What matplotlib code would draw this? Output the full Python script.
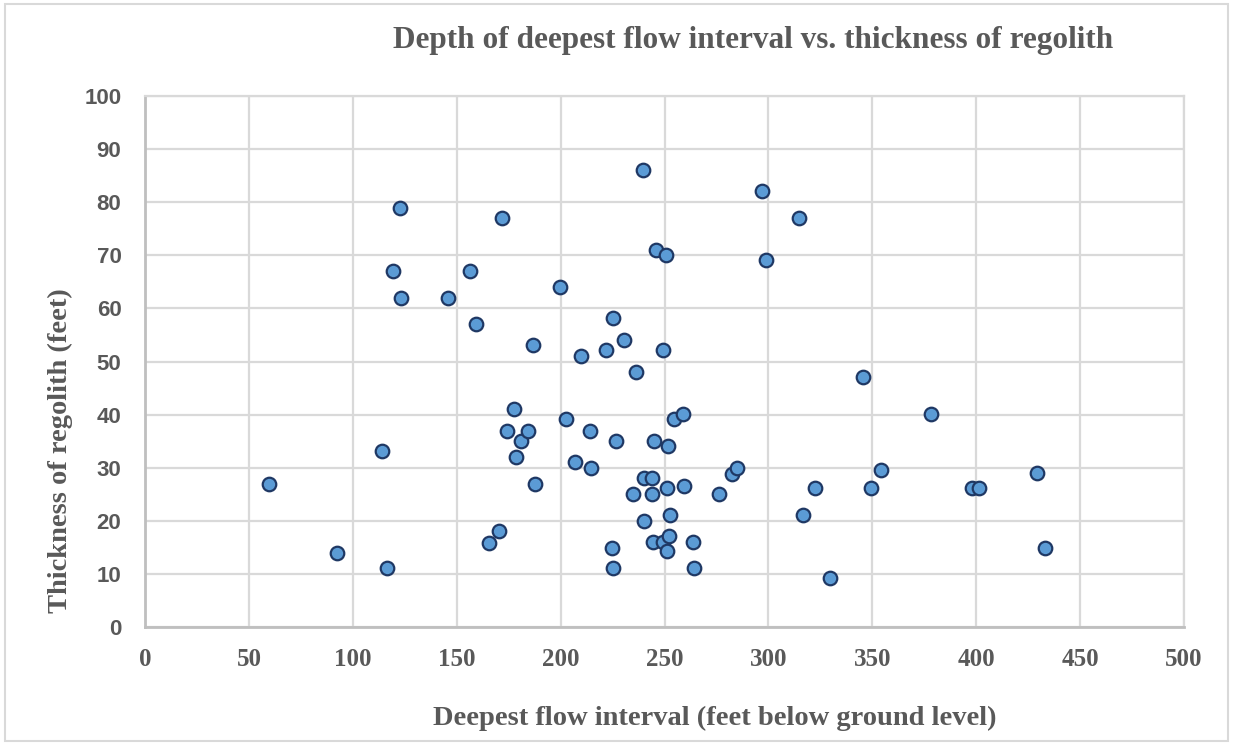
import matplotlib.pyplot as plt
from matplotlib.patches import Rectangle

# deepest flow interval (feet below ground level)
flow_depth = [59.8, 92.4, 113.9, 116.3, 119.5, 122.6, 123.2, 146.0, 156.2, 159.5,
              165.7, 170.5, 171.8, 174.2, 177.4, 178.5, 181.0, 184.2, 186.6, 187.7,
              199.6, 202.6, 206.8, 209.8, 214.2, 214.6, 221.7, 224.7, 225.4, 225.4,
              226.7, 230.4, 234.7, 236.4, 239.5, 240.0, 240.1, 244.0, 244.0, 244.6,
              244.9, 245.8, 249.1, 249.3, 250.6, 251.2, 251.2, 251.5, 252.5, 252.0,
              254.7, 258.7, 259.2, 263.6, 264.0, 276.4, 282.6, 284.7, 296.9, 298.7,
              314.7, 316.7, 322.6, 329.5, 345.7, 349.2, 354.3, 378.2, 398.0, 401.2,
              429.3, 433.1]
# thickness of regolith (feet)
regolith = [27.0, 14.0, 33.1, 11.1, 67.1, 79.0, 62.0, 62.0, 67.1, 57.0,
            15.9, 18.1, 77.1, 36.9, 41.0, 32.1, 35.0, 36.9, 53.1, 27.0,
            64.0, 39.1, 31.1, 51.0, 36.9, 29.9, 52.2, 14.9, 58.2, 11.1,
            35.0, 54.1, 25.1, 48.0, 86.0, 28.0, 20.0, 28.0, 25.1, 16.0,
            35.0, 71.0, 16.0, 52.2, 70.1, 26.1, 14.4, 34.0, 21.0, 17.2,
            39.1, 40.1, 26.6, 16.0, 11.1, 25.1, 28.9, 29.9, 82.1, 69.1,
            77.1, 21.0, 26.1, 9.2, 47.1, 26.1, 29.5, 40.1, 26.1, 26.1,
            29.0, 14.9]

x_ticks = list(range(0, 501, 50))
y_ticks = list(range(0, 101, 10))

grey_text = '#595959'
grid_col = '#D9D9D9'

fig = plt.figure(figsize=(12.33, 7.45), dpi=100)
ax = fig.add_axes([0.1176, 0.1584, 0.8427, 0.7127])

ax.scatter(flow_depth, regolith, s=95, color='#5B9BD5', edgecolors='#1F3864',
           linewidths=1.6, zorder=3)

ax.set_xlim(0, 500)
ax.set_ylim(0, 100)
ax.set_xticks(x_ticks)
ax.set_yticks(y_ticks)
ax.grid(True, color=grid_col, linewidth=1.6)
ax.set_axisbelow(True)
ax.tick_params(length=0)
ax.tick_params(axis='y', pad=17)
ax.tick_params(axis='x', pad=15)

for lab in ax.get_yticklabels():
    lab.set_fontfamily('Liberation Sans')
    lab.set_fontweight('bold')
    lab.set_fontsize(16)
    lab.set_color(grey_text)
for lab in ax.get_xticklabels():
    lab.set_fontfamily('Liberation Serif')
    lab.set_fontweight('bold')
    lab.set_fontsize(18)
    lab.set_color(grey_text)

for side in ['top', 'right']:
    ax.spines[side].set_color(grid_col)
    ax.spines[side].set_linewidth(1.6)
for side in ['left', 'bottom']:
    ax.spines[side].set_color('#BFBFBF')
    ax.spines[side].set_linewidth(2)

fig.text(0.611, 0.946, 'Depth of deepest flow interval vs. thickness of regolith',
         ha='center', va='center', fontsize=22.5, fontweight='bold',
         family='Liberation Serif', color=grey_text)
fig.text(0.58, 0.036, 'Deepest flow interval (feet below ground level)',
         ha='center', va='center', fontsize=20.5, fontweight='bold',
         family='Liberation Serif', color=grey_text)
fig.text(0.049, 0.395, 'Thickness of regolith (feet)', rotation=90,
         ha='center', va='center', fontsize=20.5, fontweight='bold',
         family='Liberation Serif', color=grey_text)

# chart border
fig.patches.append(Rectangle((0.004, 0.006), 0.992, 0.988, transform=fig.transFigure,
                             fill=False, edgecolor=grid_col, linewidth=1.5))

plt.savefig('out.png', dpi=100)
